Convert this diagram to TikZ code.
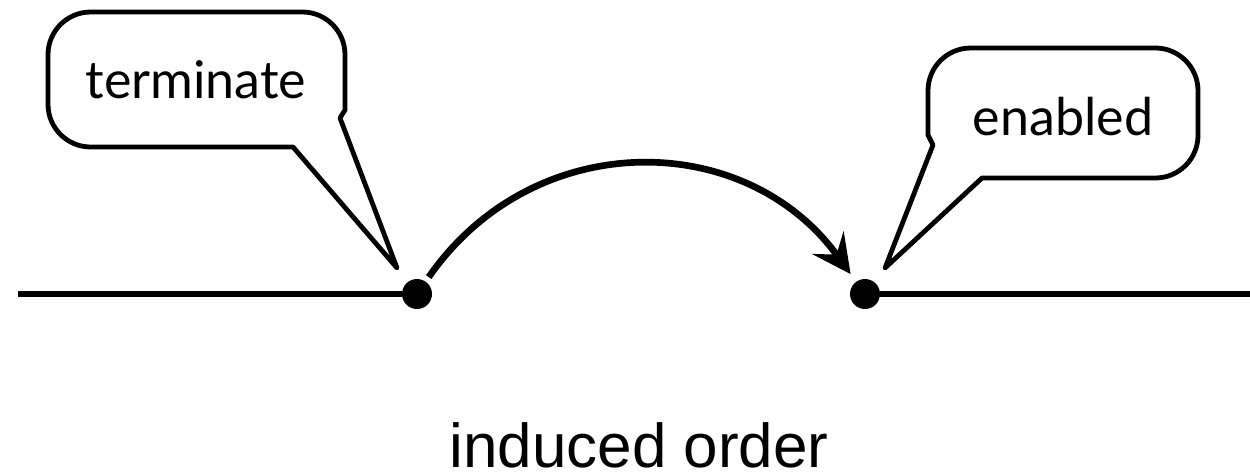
\documentclass[tikz,border=0pt]{standalone}
\usepackage{fontspec}
\setmainfont{Liberation Sans}
\newfontfamily\calloutfont{Lato}
\usetikzlibrary{arrows.meta}

\begin{document}
\begin{tikzpicture}[x=0.75pt,y=0.75pt,yscale=-1,xscale=1,
    timeline/.style={line width=5pt},
    event/.style={circle,fill=black,inner sep=0pt,minimum size=22.5pt},
    bubble/.style={line width=3.6pt,line join=round},
    bubbletext/.style={font=\calloutfont\fontsize{39}{47}\selectfont,inner sep=0pt,anchor=base},
    order/.style={line width=5pt,-{Stealth[length=29pt,width=29pt,inset=11pt]}}]

    \useasboundingbox (0,0) rectangle (1250,472);

    % Time line
    \coordinate (lineL) at (18,294);
    \coordinate (lineR) at (1250,294);
    \node[event] (term) at (417,294) {};
    \node[event] (enab) at (865,294) {};
    \draw[timeline] (lineL) -- (term);
    \draw[timeline] (enab) -- (lineR);

    % Callouts
    \draw[bubble] (397,268) -- (293,147) [rounded corners=32pt] -- (48,147) -- (48,12) -- (345,12) [sharp corners] -- (345,110) -- (340,118) -- cycle;
    \draw[bubble] (885,268) -- (933,145) -- (928,135) [rounded corners=32pt] -- (928,48) -- (1198,48) -- (1198,178) [sharp corners] -- (982,178) -- cycle;
    \node[bubbletext] (termtext) at (196,98) {terminate};
    \node[bubbletext] (enabtext) at (1063,135) {enabled};

    % Order arc
    \draw[order,shorten <=4pt,shorten >=7pt] (term) to[out=-59,in=-122,looseness=1.25] (enab);

    % Caption
    \node[font=\fontsize{46.5}{56}\selectfont,anchor=base,inner sep=0pt] (caption) at (639,467) {induced order};

\end{tikzpicture}
\end{document}
